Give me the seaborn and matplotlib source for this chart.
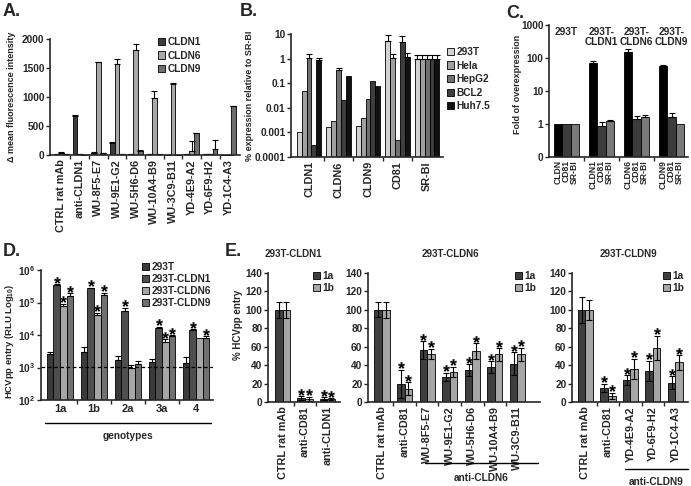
import numpy as np
import pandas as pd
import matplotlib
matplotlib.use("Agg")
import matplotlib.pyplot as plt
import matplotlib.transforms as mtransforms
from matplotlib.patches import Patch
from matplotlib.lines import Line2D
from matplotlib.ticker import NullLocator
import seaborn as sns

# ---- data ----
# A. antibody binding
a_antibodies = ["CTRL rat mAb", "anti-CLDN1", "WU-8F5-E7", "WU-9E1-G2", "WU-5H6-D6",
                "WU-10A4-B9", "WU-3C9-B11", "YD-4E9-A2", "YD-6F9-H2", "YD-1C4-A3"]
a_series = ["CLDN1", "CLDN6", "CLDN9"]
a_cldn1 = [20, 675, 40, 210, 10, 10, 5, 10, 15, 5]
a_cldn1_err = [5, 8, 5, 15, 3, 3, 2, 3, 3, 2]
a_cldn6 = [35, 10, 1595, 1570, 1805, 980, 1225, 70, 10, 5]
a_cldn6_err = [25, 3, 5, 85, 110, 130, 10, 165, 3, 2]
a_cldn9 = [15, 5, 30, 20, 70, 15, 5, 375, 100, 840]
a_cldn9_err = [3, 2, 3, 3, 8, 3, 2, 10, 150, 10]

# B. expression relative to SR-BI
b_genes = ["CLDN1", "CLDN6", "CLDN9", "CD81", "SR-BI"]
b_cells = ["293T", "Hela", "HepG2", "BCL2", "Huh7.5"]
b_293t = [0.001, 0.0017, 0.0019, 5.3, 1.0]
b_hela = [0.048, 0.0029, 0.0037, 1.05, 1.0]
b_hepg2 = [1.1, 0.35, 0.023, 0.00048, 1.0]
b_bcl2 = [0.00032, 0.021, 0.12, 4.9, 1.0]
b_huh75 = [0.9, 0.2, 0.077, 1.17, 1.0]
b_293t_err = [0, 0, 0, 3.7, 0.38]
b_hela_err = [0, 0, 0, 0.45, 0.38]
b_hepg2_err = [0.4, 0.06, 0, 0, 0.38]
b_bcl2_err = [0, 0, 0, 3.1, 0.38]
b_huh75_err = [0.2, 0, 0, 0.53, 0.38]

# C. fold of overexpression
c_lines = ["293T", "293T-\nCLDN1", "293T-\nCLDN6", "293T-\nCLDN9"]
c_markers = ["CLDN", "CD81", "SR-BI"]
c_cldn = [1, 71, 148, 56]
c_cldn_err = [0, 12, 38, 4]
c_cd81 = [1, 0.87, 1.41, 1.58]
c_cd81_err = [0, 0.3, 0.37, 0.52]
c_srbi = [1, 1.23, 1.58, 0.98]
c_srbi_err = [0, 0.12, 0.32, 0]
c_bar_labels = ["CLDN", "CD81", "SR-BI", "CLDN1", "CD81", "SR-BI",
                "CLDN6", "CD81", "SR-BI", "CLDN9", "CD81", "SR-BI"]

# D. HCVpp entry by genotype
d_genotypes = ["1a", "1b", "2a", "3a", "4"]
d_series = ["293T", "293T-CLDN1", "293T-CLDN6", "293T-CLDN9"]
d_293t = [2570, 2960, 1700, 1450, 1400]
d_293t_err = [380, 1240, 550, 340, 700]
d_cldn1 = [345000, 273000, 56000, 16600, 14200]
d_cldn1_err = [15000, 10000, 13000, 1200, 600]
d_cldn6 = [80000, 41500, 1000, 6200, 7900]
d_cldn6_err = [12000, 7500, 170, 1100, 0]
d_cldn9 = [163000, 173000, 1320, 9300, 8300]
d_cldn9_err = [27000, 30000, 300, 700, 700]
d_stars = [[0, 0, 0, 0, 0], [1, 1, 1, 1, 1], [1, 1, 0, 1, 0], [1, 1, 0, 1, 1]]
d_cutoff = 1050

# E. neutralisation
e_series = ["1a", "1b"]
e1_groups = ["CTRL rat mAb", "anti-CD81", "anti-CLDN1"]
e1_1a = [100, 4, 3.5]
e1_1a_err = [9, 2, 1.5]
e1_1b = [100, 3.5, 3]
e1_1b_err = [8.7, 2, 1]
e2_groups = ["CTRL rat mAb", "anti-CD81", "WU-8F5-E7", "WU-9E1-G2", "WU-5H6-D6",
             "WU-10A4-B9", "WU-3C9-B11"]
e2_1a = [100, 19.6, 56.4, 27, 34.5, 37.8, 41.5]
e2_1a_err = [8, 15.5, 9.6, 4.6, 6.2, 6.6, 12.5]
e2_1b = [100, 14.5, 52.4, 32.7, 55.3, 51.6, 51.6]
e2_1b_err = [9, 7, 5.6, 5.3, 8.3, 6.6, 7.3]
e3_groups = ["CTRL rat mAb", "anti-CD81", "YD-4E9-A2", "YD-6F9-H2", "YD-1C4-A3"]
e3_1a = [100, 15.3, 23.7, 34, 20.8]
e3_1a_err = [14, 4.7, 5.3, 11, 7.2]
e3_1b = [100, 6.6, 36, 59, 43]
e3_1b_err = [10.5, 3.3, 11, 13, 8]

# ---- style ----
sns.set_style("ticks")
plt.rcParams["font.family"] = ["Liberation Sans", "DejaVu Sans"]
plt.rcParams["font.weight"] = "bold"
plt.rcParams["axes.labelweight"] = "bold"
plt.rcParams["font.size"] = 7
plt.rcParams["mathtext.fontset"] = "custom"
plt.rcParams["mathtext.rm"] = "Liberation Sans:bold"
plt.rcParams["mathtext.it"] = "Liberation Sans:bold"
plt.rcParams["mathtext.bf"] = "Liberation Sans:bold"

W, H = 691, 486
fig = plt.figure(figsize=(W / 100, H / 100), dpi=100)
TFS = 7.8   # rotated category labels


def axes_px(left, top, right, bottom):
    return fig.add_axes([left / W, 1 - bottom / H, (right - left) / W, (bottom - top) / H])


def ftext(x, y, s, **kw):
    fig.text(x / W, 1 - y / H, s, **kw)


def fline(x1, x2, y):
    fig.add_artist(Line2D([x1 / W, x2 / W], [1 - y / H, 1 - y / H],
                          transform=fig.transFigure, color="black", lw=1))


def bars(ax, cats, names, values, colors, width):
    df = pd.DataFrame({
        "cat": [c for _ in names for c in cats],
        "series": [n for n in names for _ in cats],
        "value": [v for vals in values for v in vals],
    })
    sns.barplot(data=df, x="cat", y="value", hue="series", order=cats, hue_order=names,
                palette=colors, width=width, edgecolor="black", linewidth=0.6,
                errorbar=None, legend=False, saturation=1, ax=ax)
    return [[p.get_x() + p.get_width() / 2 for p in cont] for cont in ax.containers]


def errs(ax, xs, ys, es, both=False):
    for x, y, e in zip(xs, ys, es):
        if e <= 0:
            continue
        lo = e if both else 0
        ax.errorbar(x, y, yerr=[[lo], [e]], fmt="none", ecolor="black",
                    elinewidth=0.8, capsize=2, capthick=0.8)


def star(ax, x, y):
    # significance asterisk drawn as a glyph marker just above the error bar
    tr = mtransforms.offset_copy(ax.transData, fig=fig, x=0, y=4.5, units="dots")
    ax.plot([x], [y], marker=r"$*$", ms=4.8, mew=0.1, color="black", linestyle="none",
            transform=tr, clip_on=False)


def style(ax, n, xlim, labels, rot=90, fs=TFS):
    sns.despine(ax=ax)
    for s in ["left", "bottom"]:
        ax.spines[s].set_linewidth(1.2)
    ax.set_xlim(*xlim)
    ax.set_xticks(range(n))
    ax.set_xticklabels(labels, rotation=rot, fontsize=fs, fontweight="bold")
    ax.set_xticks(np.arange(n - 1) + 0.5, minor=True)
    ax.tick_params(axis="x", which="major", length=0, pad=3)
    ax.tick_params(axis="x", which="minor", length=3, width=1)
    ax.tick_params(axis="y", length=3, width=1, pad=1, labelsize=7.3)
    ax.set_xlabel("")
    ax.set_ylabel("")


def legend(ax, names, colors, x, y, spacing=0.35):
    handles = [Patch(facecolor=c, edgecolor="black", linewidth=0.6, label=n)
               for n, c in zip(names, colors)]
    ax.legend(handles=handles, loc="upper left", bbox_to_anchor=(x / W, 1 - y / H),
              bbox_transform=fig.transFigure, frameon=False, fontsize=7.3,
              handlelength=0.7, handleheight=0.7, handletextpad=0.25,
              labelspacing=spacing, borderpad=0, borderaxespad=0)


# ---- A ----
axA = axes_px(50, 39, 240, 155)
colA = ["#3c3c3c", "#a8a8a8", "#6e6e6e"]
cen = bars(axA, a_antibodies, a_series, [a_cldn1, a_cldn6, a_cldn9], colA, 0.75)
for xs, ys, es in zip(cen, [a_cldn1, a_cldn6, a_cldn9], [a_cldn1_err, a_cldn6_err, a_cldn9_err]):
    errs(axA, xs, ys, es)
style(axA, 10, (-0.6, 9.6), a_antibodies)
axA.set_ylim(0, 2000)
axA.set_yticks([0, 500, 1000, 1500, 2000])
axA.set_ylabel("Δ mean fluorescence intensity", fontsize=6.5, va="center")
axA.yaxis.set_label_coords((12 - 50) / 190, 0.5)
legend(axA, a_series, colA, 158, 37, 0.35)

# ---- B ----
axB = axes_px(291, 34, 443, 157)
colB = ["#d2d2d2", "#a0a0a0", "#707070", "#3e3e3e", "#111111"]
valsB = [b_293t, b_hela, b_hepg2, b_bcl2, b_huh75]
cen = bars(axB, b_genes, b_cells, valsB, colB, 0.83)
axB.set_yscale("log")
for xs, ys, es in zip(cen, valsB, [b_293t_err, b_hela_err, b_hepg2_err, b_bcl2_err, b_huh75_err]):
    errs(axB, xs, ys, es)
style(axB, 5, (-0.61, 4.54), b_genes)
axB.set_ylim(0.0001, 10)
axB.set_yticks([0.0001, 0.001, 0.01, 0.1, 1, 10])
axB.set_yticklabels(["0.0001", "0.001", "0.01", "0.1", "1", "10"])
axB.yaxis.set_minor_locator(NullLocator())
axB.set_ylabel("% expression relative to SR-BI", fontsize=6.5, va="center")
axB.yaxis.set_label_coords((249 - 291) / 152, 0.5)
legend(axB, b_cells, colB, 447, 47, 0.35)

# ---- C ----
axC = axes_px(549, 25, 688, 157)
colC = ["#000000", "#3c3c3c", "#7a7a7a"]
valsC = [c_cldn, c_cd81, c_srbi]
cen = bars(axC, c_lines, c_markers, valsC, colC, 0.7)
axC.set_yscale("log")
for xs, ys, es in zip(cen, valsC, [c_cldn_err, c_cd81_err, c_srbi_err]):
    errs(axC, xs, ys, es)
style(axC, 4, (-0.5, 3.47), [""] * 4)
bar_x = sorted(x for xs in cen for x in xs)
axC.set_xticks(bar_x)
axC.set_xticklabels(c_bar_labels, rotation=90, fontsize=6.2, fontweight="bold",
                    linespacing=1.0)
axC.tick_params(axis="x", which="major", length=0, pad=2)
axC.set_ylim(0.1, 1000)
axC.set_yticks([0.1, 1, 10, 100, 1000])
axC.set_yticklabels(["0", "1", "10", "100", "1000"])
axC.yaxis.set_minor_locator(NullLocator())
axC.set_ylabel("Fold of overexpression", fontsize=6.5, va="center")
axC.yaxis.set_label_coords((518 - 549) / 139, 0.55)
for i, lab in enumerate(c_lines):
    axC.text(i, 0.985, lab, transform=axC.get_xaxis_transform(), ha="center", va="top",
             fontsize=7.3, fontweight="bold", linespacing=1.0)

# ---- D ----
axD = axes_px(41, 270, 213, 400)
colD = ["#3a3a3a", "#4e4e4e", "#a6a6a6", "#707070"]
valsD = [d_293t, d_cldn1, d_cldn6, d_cldn9]
errD = [d_293t_err, d_cldn1_err, d_cldn6_err, d_cldn9_err]
cen = bars(axD, d_genotypes, d_series, valsD, colD, 0.77)
axD.set_yscale("log")
for xs, ys, es, st in zip(cen, valsD, errD, d_stars):
    errs(axD, xs, ys, es)
    for x, y, e, s in zip(xs, ys, es, st):
        if s:
            star(axD, x, y + e)
axD.axhline(d_cutoff, color="black", lw=0.9, ls=(0, (3, 2)))
style(axD, 5, (-0.56, 4.5), d_genotypes, rot=0, fs=8)
axD.set_ylim(100, 1e6)
axD.set_yticks([1e2, 1e3, 1e4, 1e5, 1e6])
axD.set_yticklabels([r"$10^{2}$", r"$10^{3}$", r"$10^{4}$", r"$10^{5}$", r"$10^{6}$"])
axD.yaxis.set_minor_locator(NullLocator())
axD.set_ylabel(r"HCVpp entry (RLU Log$_{10}$)", fontsize=6.8, va="center")
axD.yaxis.set_label_coords((10 - 41) / 172, 0.45)
legend(axD, d_series, colD, 142, 262, 0.2)
fline(45, 211, 423)
ftext(128, 436, "genotypes", ha="center", va="center", fontsize=7.3)

# ---- E ----
colE = ["#3f3f3f", "#a6a6a6"]
e_panels = [
    ((268, 273, 340, 402), (-0.65, 2.56), e1_groups, e1_1a, e1_1a_err, e1_1b, e1_1b_err, "293T-CLDN1", 293, 313),
    ((368, 273, 540, 402), (-0.62, 7.0), e2_groups, e2_1a, e2_1a_err, e2_1b, e2_1b_err, "293T-CLDN6", 450, 515),
    ((572, 273, 688, 402), (-0.6, 4.56), e3_groups, e3_1a, e3_1a_err, e3_1b, e3_1b_err, "293T-CLDN9", 628, 663),
]
for k, (box, xlim, groups, v1, e1, v2, e2, title, tx, lx) in enumerate(e_panels):
    ax = axes_px(*box)
    cen = bars(ax, groups, e_series, [v1, v2], colE, 0.67)
    for xs, ys, es in zip(cen, [v1, v2], [e1, e2]):
        errs(ax, xs, ys, es, both=True)
        for i, (x, y, e) in enumerate(zip(xs, ys, es)):
            if i > 0:
                star(ax, x, y + e)
    style(ax, len(groups), xlim, groups)
    ax.set_ylim(0, 140)
    ax.set_yticks(range(0, 141, 20))
    legend(ax, e_series, colE, lx, 271, 0.2)
    ftext(tx, 254, title, ha="center", va="center", fontsize=7)
    if k == 0:
        ax.set_ylabel("% HCVpp entry", fontsize=7, va="center")
        ax.yaxis.set_label_coords((238 - 268) / 72, 0.6)

fline(425, 538, 463)
ftext(481, 478, "anti-CLDN6", ha="center", va="center", fontsize=7.3)
fline(625, 688, 469)
ftext(656, 482, "anti-CLDN9", ha="center", va="center", fontsize=7.3)

# panel letters
for x, y, s in [(3, 12, "A."), (240, 12, "B."), (506, 14, "C."), (3, 252, "D."), (225, 252, "E.")]:
    ftext(x, y, s, ha="left", va="center", fontsize=13, fontweight="bold")

fig.savefig("out.png", dpi=100)
